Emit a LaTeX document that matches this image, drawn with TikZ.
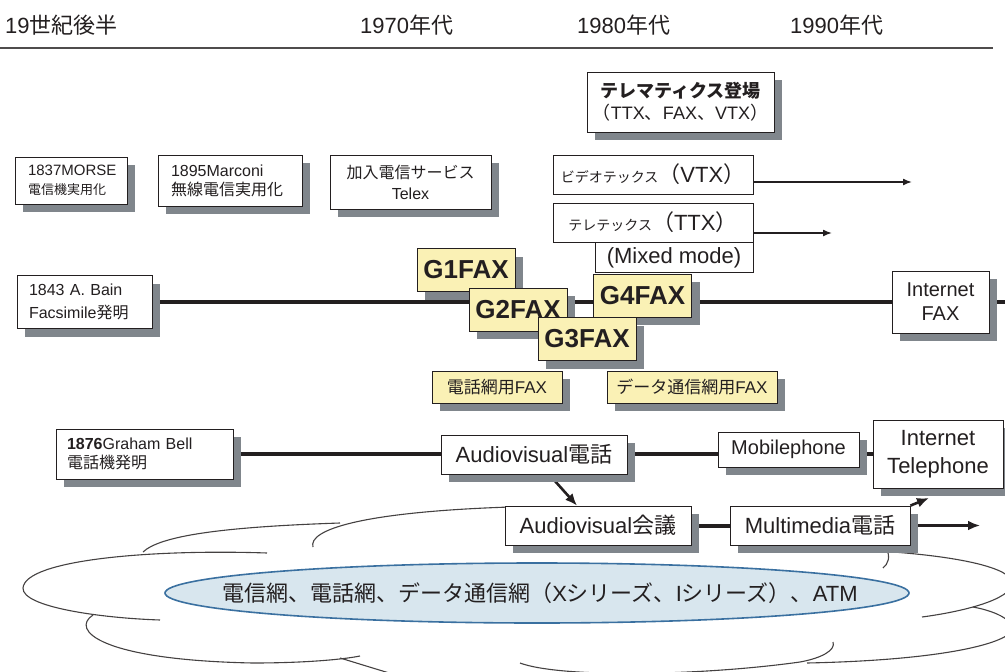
\documentclass[tikz,border=0pt]{standalone}
\usepackage{fontspec}
\setmainfont{Liberation Sans}
\newfontfamily\jp{Noto Sans CJK JP}
\usetikzlibrary{arrows.meta,calc,shadows,backgrounds}
\definecolor{ink}{HTML}{231F20}
\definecolor{boxshade}{HTML}{80868C}
\definecolor{faxyellow}{HTML}{FAF1B5}
\definecolor{netfill}{HTML}{D8E6EE}
\definecolor{netblue}{HTML}{3A70A0}
\newcommand\fs[2]{\fontsize{#1}{#2}\selectfont}

\tikzset{
  box/.style={draw=ink,line width=.8pt,fill=white,inner sep=0pt,text=ink,
    drop shadow={shadow xshift=8pt,shadow yshift=-8pt,fill=boxshade,opacity=1}},
  flat/.style={draw=ink,line width=.8pt,fill=white,inner sep=0pt,text=ink},
  gfax/.style={box,fill=faxyellow,font=\bfseries\fs{26}{30},minimum width=98pt,minimum height=43pt},
  usefax/.style={box,fill=faxyellow,font=\fs{17}{20},minimum height=32pt},
  era/.style={anchor=west,font=\fs{22}{26},text=ink,inner sep=0pt},
  trunk/.style={draw=ink,line width=4pt},
  arr/.style={draw=ink,line width=2.6pt,-{Latex[length=12pt,width=10pt]}},
  thinarr/.style={draw=ink,line width=1.5pt,-{Latex[length=9pt,width=7pt]}},
  puff/.style={draw=ink!85,line width=1.1pt},
}

\begin{document}
\begin{tikzpicture}[x=1pt,y=-1pt]
  \useasboundingbox (0,0) rectangle (1005,672);
  % era header
  \node[era] (e19) at (5,25) {19{\jp 世紀後半}};
  \node[era] (e70) at (360,25) {1970{\jp 年代}};
  \node[era] (e80) at (577,25) {1980{\jp 年代}};
  \node[era] (e90) at (790,25) {1990{\jp 年代}};
  \draw[ink!80,line width=1.5pt] (0,48) -- (993,48);
  % cloud of networks
  \begin{scope}
    \clip (0,0) rectangle (1005,672);
    \draw[puff] (267,553) .. controls (150,549) and (25,560) .. (23,588) .. controls (22,607) and (100,618) .. (160,620);
    \draw[puff] (143,552) .. controls (160,536) and (220,527) .. (340,523);
    \draw[puff] (313,547) .. controls (308,530) and (360,512) .. (510,507);
    \draw[puff] (93,615) .. controls (70,630) and (100,660) .. (253,663) .. controls (300,663) and (340,660) .. (360,656);
    \draw[puff] (340,658) .. controls (360,664) and (385,672) .. (420,682);
    \draw[puff] (520,663) .. controls (560,678) and (700,676) .. (800,662) .. controls (822,658) and (836,650) .. (833,642);
    \draw[puff] (893,552) .. controls (960,557) and (1012,568) .. (1012,583) .. controls (1012,600) and (960,612) .. (922,617);
    \draw[puff] (973,607) .. controls (1000,612) and (1014,622) .. (1012,630) .. controls (1008,642) and (950,660) .. (807,663);
    \draw[puff] (886,548) .. controls (891,557) and (888,564) .. (883,568);
  \end{scope}
  \draw[netblue,fill=netfill,line width=1.6pt] (537,593) ellipse [x radius=372,y radius=30];
  \node[font=\fs{22}{26},text=ink] (nets) at (540,593) {{\jp 電信網、電話網、データ通信網（}X{\jp シリーズ、}I{\jp シリーズ）、}ATM};
  % telegraph
  \node[box,minimum width=112pt,minimum height=47pt,text width=86pt,align=left,font=\fs{15}{19}] (morse) at (71,180.5) {1837MORSE\\{\jp\fs{13}{16}電信機実用化}};
  \node[box,minimum width=144pt,minimum height=51pt,text width=118pt,align=left,font=\fs{16}{19}] (marconi) at (230,180.5) {1895Marconi\\{\jp 無線電信実用化}};
  \node[box,minimum width=161pt,minimum height=54pt,align=center,font=\fs{16}{21}] (telex) at (410.5,182) {{\jp 加入電信サービス}\\Telex};
  % telematics
  \node[box,minimum width=187pt,minimum height=60pt,align=center,font=\fs{18}{22}] (telem) at (680.5,102) {{\jp\bfseries テレマティクス登場}\\{\jp （}TTX{\jp 、}FAX{\jp 、}VTX{\jp ）}};
  \node[flat,minimum width=200pt,minimum height=39pt,font=\fs{22}{26}] (vtx) at (653,174.5) {{\jp\fs{14}{17}ビデオテックス}{\jp （}VTX{\jp ）}};
  \node[flat,minimum width=200pt,minimum height=39pt,font=\fs{22}{26}] (ttx) at (653,222.5) {{\jp\fs{14}{17}テレテックス}{\jp （}TTX{\jp ）}};
  \node[flat,minimum width=158pt,minimum height=30pt,font=\fs{22}{26},anchor=north east] (mixed) at (ttx.south east) {(Mixed mode)};
  \coordinate (vtxend) at (912,182);
  \coordinate (ttxend) at (832,233);
  \draw[thinarr] (vtx.east |- vtxend) -- (vtxend);
  \draw[thinarr] (ttx.east |- ttxend) -- (ttxend);
  % facsimile
  \node[box,minimum width=135pt,minimum height=53pt,text width=111pt,align=left,font=\fs{16}{23}] (bain) at (84.5,302) {1843 A. Bain\\Facsimile{\jp 発明}};
  \node[box,minimum width=97pt,minimum height=62pt,align=center,font=\fs{20}{24}] (ifax) at (940.5,302) {Internet\\FAX};
  \coordinate (faxend) at (1005,302);
  \node[gfax] (g1) at (466,270) {G1FAX};
  \node[gfax] (g2) at (518,309.5) {G2FAX};
  \node[gfax] (g4) at (642.5,295.5) {G4FAX};
  \node[gfax] (g3) at (587,339) {G3FAX};
  \node[usefax,minimum width=130pt] (phonefax) at (497,387) {{\jp 電話網用}FAX};
  \node[usefax,minimum width=170pt] (datafax) at (692,387) {{\jp データ通信網用}FAX};
  % telephone
  \node[box,minimum width=177pt,minimum height=50pt,text width=155pt,align=left,font=\fs{16}{19}] (bell) at (144.5,454) {\textbf{1876}Graham Bell\\{\jp 電話機発明}};
  \node[box,minimum width=186pt,minimum height=39pt,font=\fs{22}{26}] (avtel) at (534,454.5) {Audiovisual{\jp 電話}};
  \node[box,minimum width=141pt,minimum height=35pt,font=\fs{20}{24}] (mobile) at (788.5,449.5) {Mobilephone};
  \node[box,minimum width=130pt,minimum height=68pt,align=center,font=\fs{22}{28}] (itel) at (938,454) {Internet\\Telephone};
  \node[box,minimum width=186pt,minimum height=39pt,font=\fs{22}{26}] (avconf) at (598,525.5) {Audiovisual{\jp 会議}};
  \node[box,minimum width=180pt,minimum height=39pt,font=\fs{22}{26}] (mmtel) at (820,525.5) {Multimedia{\jp 電話}};
  \coordinate (mmend) at (980,525.5);
  \coordinate (itelin) at (929,498);
  \begin{scope}[on background layer]
    \draw[trunk] (bain.east) -- (ifax.west);
    \draw[trunk] (ifax.east) -- (faxend);
    \draw[trunk] (bell.east) -- (itel.west);
    \draw[trunk] (avconf.east) -- (mmtel.west);
    \draw[arr] ($(avtel.south)+(15,0)$) -- ($(avconf.north)+(-21,0)$);
    \draw[arr] (mmtel.east) -- (mmend);
    \draw[arr] (mmtel.north east) -- (itelin);
  \end{scope}
\end{tikzpicture}
\end{document}
